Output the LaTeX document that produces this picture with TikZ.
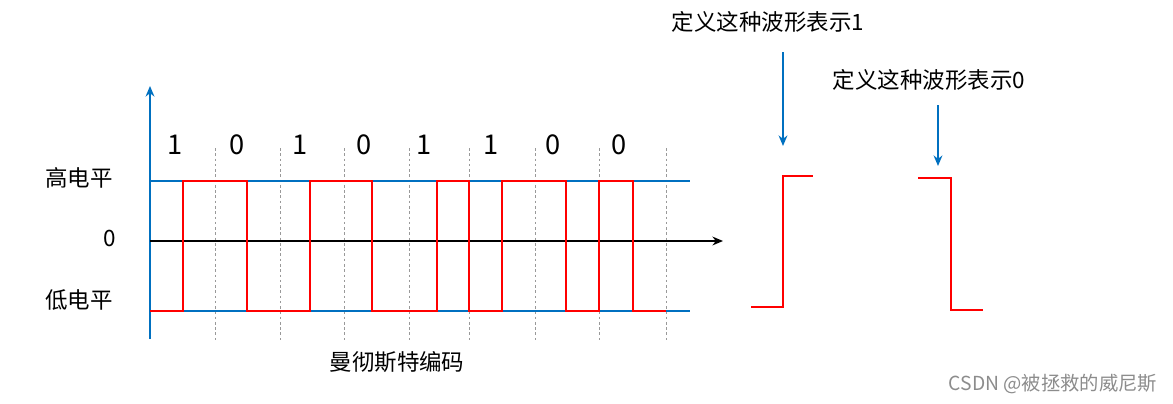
\documentclass[tikz,border=0pt]{standalone}
\usepackage{fontspec}
\newfontfamily\cjk{Noto Sans CJK SC}
\usetikzlibrary{arrows.meta}
\definecolor{axisblue}{RGB}{0,112,192}
\tikzset{
    label/.style={font=\cjk\fontsize{12.8}{15}\selectfont, inner sep=0pt},
    bitlabel/.style={font=\cjk\fontsize{15.5}{18}\selectfont, inner sep=0pt},
    levelline/.style={draw=axisblue, line width=1.1pt},
    signal/.style={draw=red, line width=1.5pt},
    tick/.style={draw=gray!80, line width=0.4pt, dash pattern=on 1.5pt off 1.5pt},
    pointer/.style={draw=axisblue, line width=1.1pt, -{Stealth[length=6pt,width=5pt]}}
}
\begin{document}
\begin{tikzpicture}[x=0.02cm, y=-0.02cm]
    \useasboundingbox (0,0) rectangle (1173,403);
    % the cell separators
    \foreach \x in {215,280,344,409,469,535,599,666}
        \draw[tick] (\x,148) -- (\x,343);
    % the levels and the axes
    \draw[levelline] (150,181) -- (690,181);
    \draw[levelline] (150,311) -- (690,311);
    \draw[levelline, -{Stealth[length=6pt,width=5pt]}] (150,339) -- (150,86);
    \draw[line width=1.1pt, -{Stealth[length=6pt,width=5pt]}] (150,241) -- (723,241);
    % level names
    \node[label] (high) at (79,178) {高电平};
    \node[label] (zero) at (110,238) {0};
    \node[label] (low) at (79,300) {低电平};
    % the bits
    \foreach \x/\b [count=\i] in {175/1,237/0,300/1,364/0,424/1,491/1,553/0,619/0}
        \node[bitlabel] (bit\i) at (\x,145) {\b};
    % the manchester signal
    \draw[signal] (150,311) -- (183,311) -- (183,181) -- (247,181) -- (247,311)
        -- (310,311) -- (310,181) -- (372,181) -- (372,311) -- (437,311)
        -- (437,181) -- (469,181) -- (469,311) -- (502,311) -- (502,181)
        -- (566,181) -- (566,311) -- (599,311) -- (599,181) -- (633,181)
        -- (633,311) -- (666,311);
    \node[label] (caption) at (397,362) {曼彻斯特编码};

    % the waveform for 1
    \node[label] (def-one) at (768,22) {定义这种波形表示1};
    \coordinate (one-from) at (783,52);
    \coordinate (one-to) at (783,146);
    \draw[pointer] (one-from) -- (one-to);
    \draw[signal] (751,307) -- (783,307) -- (783,176) -- (813,176);

    % the waveform for 0
    \node[label] (def-zero) at (929,80) {定义这种波形表示0};
    \coordinate (zero-from) at (938,105);
    \coordinate (zero-to) at (938,166);
    \draw[pointer] (zero-from) -- (zero-to);
    \draw[signal] (918,178) -- (951,178) -- (951,310) -- (983,310);

    % watermark
    \node[font=\cjk\fontsize{11}{13}\selectfont, text=gray!90, inner sep=0pt] (mark) at (1053,384) {CSDN @被拯救的威尼斯};
\end{tikzpicture}
\end{document}
